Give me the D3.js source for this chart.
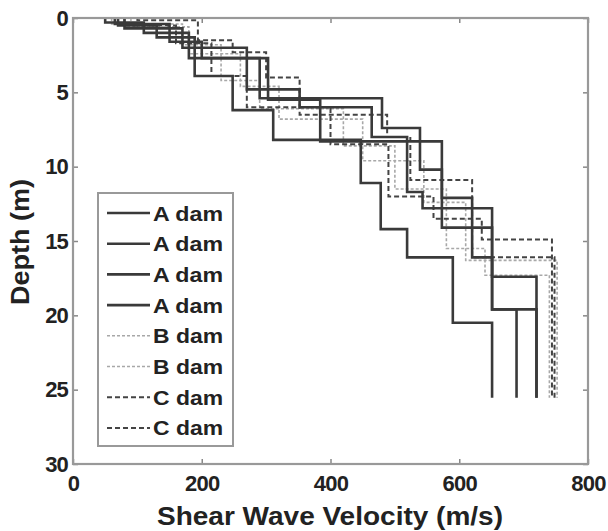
<!DOCTYPE html>
<html>
<head>
<meta charset="utf-8">
<script src="https://cdn.jsdelivr.net/npm/d3@7"></script>
<style>
  body { margin: 0; background: #fff; }
  svg text { font-family: "Liberation Sans", Arial, sans-serif; font-weight: bold; fill: #222; }
</style>
</head>
<body>
<svg id="chart" width="608" height="531"></svg>
<script>
// layer velocities (m/s) and layer bottom depths (m)
const a1Vel = [70, 130, 189, 248, 311, 447, 478, 519, 590, 651];
const a1Bot = [0.5, 1.3, 3.9, 6.2, 8.2, 11.1, 14.2, 16.1, 20.5, 25.55];
const a2Vel = [50, 110, 180, 303, 384, 573, 620, 651, 689];
const a2Bot = [0.3, 1.0, 2.7, 5.5, 8.3, 12.1, 16.1, 19.6, 25.55];
const a3Vel = [65, 150, 200, 290, 480, 539, 573, 651, 720];
const a3Bot = [0.4, 1.6, 2.7, 5.4, 7.4, 10.2, 14.1, 17.4, 25.55];
const a4Vel = [80, 170, 270, 352, 464, 519, 543, 651, 720];
const a4Bot = [0.7, 2.0, 4.8, 6.0, 8.0, 11.7, 12.8, 19.6, 25.55];
const b1Vel = [60, 170, 230, 290, 420, 500, 580, 640, 740];
const b1Bot = [0.4, 1.8, 4.2, 6.1, 8.6, 11.5, 15.5, 17.3, 25.55];
const b2Vel = [90, 180, 260, 320, 450, 545, 610, 752];
const b2Bot = [0.6, 2.4, 4.6, 6.8, 9.6, 12.4, 16.3, 25.55];
const c1Vel = [100, 194, 248, 300, 352, 488, 524, 620, 748];
const c1Bot = [0.15, 1.5, 2.3, 4.0, 6.5, 8.0, 10.9, 16.1, 25.55];
const c2Vel = [80, 160, 215, 270, 400, 490, 560, 635, 744];
const c2Bot = [0.5, 1.7, 3.9, 6.0, 8.5, 12.0, 13.5, 14.9, 25.55];

const seriesNames = ["A dam", "A dam", "A dam", "A dam", "B dam", "B dam", "C dam", "C dam"];
const seriesKinds = ["A", "A", "A", "A", "B", "B", "C", "C"];
const xTicks = [0, 200, 400, 600, 800];
const yTicks = [0, 5, 10, 15, 20, 25, 30];

const profiles = [
  [a1Vel, a1Bot], [a2Vel, a2Bot], [a3Vel, a3Bot], [a4Vel, a4Bot],
  [b1Vel, b1Bot], [b2Vel, b2Bot], [c1Vel, c1Bot], [c2Vel, c2Bot]
];

const styles = {
  A: { stroke: "#3a3a3a", width: 2.6, dash: null },
  B: { stroke: "#a8a8a8", width: 1.6, dash: "3,2" },
  C: { stroke: "#444", width: 2, dash: "5,3" }
};

const svg = d3.select("#chart");
const x = d3.scaleLinear().domain([0, 800]).range([73, 588]);
const y = d3.scaleLinear().domain([0, 30]).range([18, 464]);

const root = svg.append("g");

// step profile -> corner points
function stepPoints(vel, bot) {
  let pts = [], top = 0;
  vel.forEach((v, i) => {
    pts.push([v, top]);
    pts.push([v, bot[i]]);
    top = bot[i];
  });
  return pts;
}

const line = d3.line().x(d => x(d[0])).y(d => y(d[1]));

// draw B first (light), then C, then A on top
const order = [4, 5, 6, 7, 0, 1, 2, 3];
root.append("g").attr("class", "profiles")
  .selectAll("path")
  .data(order)
  .enter().append("path")
  .attr("d", i => line(stepPoints(profiles[i][0], profiles[i][1])))
  .attr("fill", "none")
  .attr("stroke", i => styles[seriesKinds[i]].stroke)
  .attr("stroke-width", i => styles[seriesKinds[i]].width)
  .attr("stroke-dasharray", i => styles[seriesKinds[i]].dash)
  .attr("stroke-linejoin", "miter");

// axes
const xAxis = root.append("g")
  .attr("transform", `translate(0,${y(30)})`)
  .call(d3.axisBottom(x).tickValues(xTicks).tickSize(-5).tickPadding(11));
const yAxis = root.append("g")
  .attr("transform", `translate(${x(0)},0)`)
  .call(d3.axisLeft(y).tickValues(yTicks).tickSize(-5).tickPadding(5));
const xTop = root.append("g")
  .attr("transform", `translate(0,${y(0)})`)
  .call(d3.axisTop(x).tickValues(xTicks).tickSize(-5).tickFormat(""));
const yRight = root.append("g")
  .attr("transform", `translate(${x(800)},0)`)
  .call(d3.axisRight(y).tickValues(yTicks).tickSize(-5).tickFormat(""));

[xAxis, yAxis, xTop, yRight].forEach(g => {
  g.select(".domain").remove();
  g.selectAll(".tick line").attr("stroke", "#888").attr("stroke-width", 1.5);
  g.selectAll("text").attr("font-size", 22).attr("fill", "#222");
});
xAxis.selectAll("text").attr("letter-spacing", -0.8);
yAxis.selectAll("text").attr("letter-spacing", -0.8);

// frame
root.append("rect")
  .attr("x", x(0)).attr("y", y(0))
  .attr("width", x(800) - x(0)).attr("height", y(30) - y(0))
  .attr("fill", "none").attr("stroke", "#999").attr("stroke-width", 2.2);

// axis titles
root.append("text")
  .attr("x", 330).attr("y", 525)
  .attr("text-anchor", "middle")
  .attr("font-size", 25)
  .attr("textLength", 346).attr("lengthAdjust", "spacingAndGlyphs")
  .text("Shear Wave Velocity (m/s)");
root.append("text")
  .attr("transform", "translate(29,242) rotate(-90)")
  .attr("text-anchor", "middle")
  .attr("font-size", 25)
  .attr("textLength", 126).attr("lengthAdjust", "spacingAndGlyphs")
  .text("Depth (m)");

// legend
const legend = root.append("g").attr("class", "legend");
legend.append("rect")
  .attr("x", 98).attr("y", 193).attr("width", 135).attr("height", 253)
  .attr("fill", "#fff").attr("stroke", "#999").attr("stroke-width", 2);
const item = legend.selectAll("g.item")
  .data(seriesNames)
  .enter().append("g")
  .attr("class", "item")
  .attr("transform", (d, i) => `translate(0,${213 + i * 30.7})`);
item.append("line")
  .attr("x1", 107).attr("x2", 150)
  .attr("stroke", (d, i) => styles[seriesKinds[i]].stroke)
  .attr("stroke-width", (d, i) => styles[seriesKinds[i]].width)
  .attr("stroke-dasharray", (d, i) => styles[seriesKinds[i]].dash);
item.append("text")
  .attr("x", 153).attr("dy", "0.36em")
  .attr("font-size", 21)
  .attr("textLength", 70).attr("lengthAdjust", "spacingAndGlyphs")
  .text(d => d);
</script>
</body>
</html>
